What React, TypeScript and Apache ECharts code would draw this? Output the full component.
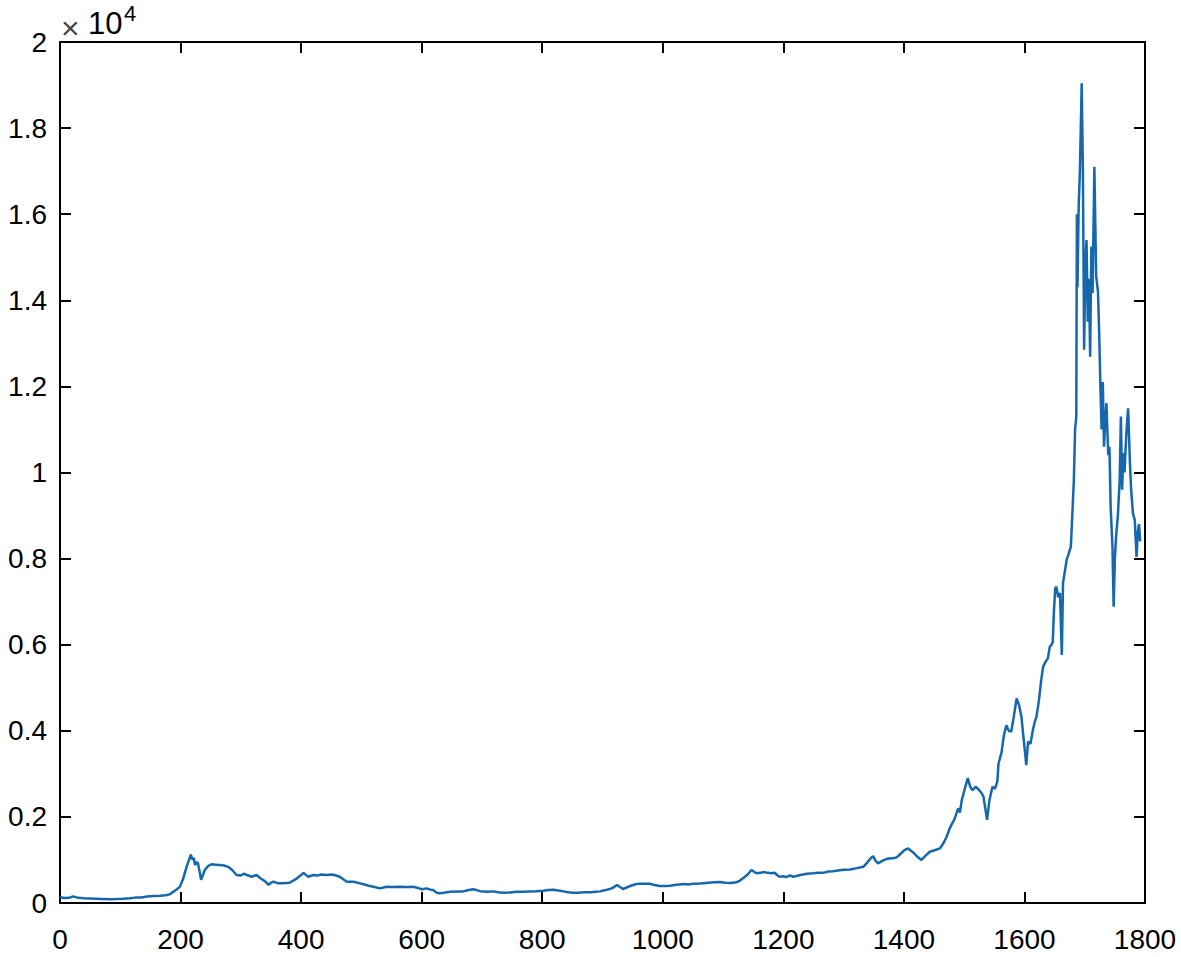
import React, { useEffect, useRef } from "react";
import * as echarts from "echarts";

// Day index (x) and price (y, raw units; axis shows ×10^4)
const dayIndex = [
  0, 8, 15, 22, 30, 40, 50, 60, 70, 83, 95, 105, 116, 125, 135, 144, 155, 166, 175, 182,
  188, 194, 199, 204, 210, 214, 217, 220, 222, 224, 227, 229, 232, 234, 237, 240, 245, 251, 258, 265,
  272, 279, 286, 293, 300, 305, 310, 318, 326, 332, 337, 342, 346, 350, 354, 362, 370, 381, 387, 393,
  399, 404, 408, 412, 420, 427, 434, 442, 451, 458, 464, 470, 476, 487, 498, 505, 512, 520, 531, 542,
  553, 564, 575, 586, 594, 600, 608, 615, 619, 625, 630, 637, 647, 660, 669, 678, 686, 697, 710, 719,
  727, 735, 746, 758, 770, 780, 790, 802, 810, 818, 827, 835, 843, 851, 860, 870, 880, 888, 896, 905,
  913, 918, 924, 929, 934, 940, 947, 956, 965, 972, 978, 986, 995, 1004, 1012, 1020, 1027, 1034, 1043, 1050,
  1058, 1067, 1076, 1085, 1095, 1104, 1113, 1122, 1128, 1133, 1140, 1147, 1152, 1156, 1162, 1167, 1174, 1180, 1186, 1190,
  1194, 1200, 1205, 1211, 1217, 1228, 1239, 1250, 1258, 1266, 1275, 1282, 1288, 1300, 1311, 1322, 1333, 1340, 1345, 1349,
  1353, 1357, 1364, 1371, 1378, 1382, 1388, 1395, 1401, 1407, 1411, 1415, 1422, 1429, 1436, 1443, 1452, 1460, 1466, 1471,
  1475, 1479, 1484, 1490, 1493, 1496, 1500, 1506, 1510, 1514, 1519, 1525, 1529, 1532, 1535, 1538, 1542, 1547, 1551, 1555,
  1557, 1562, 1566, 1570, 1574, 1578, 1582, 1587, 1591, 1595, 1598, 1601, 1603, 1606, 1610, 1614, 1617, 1620, 1624, 1628,
  1631, 1635, 1639, 1642, 1645, 1647, 1649, 1651, 1653, 1656, 1659, 1662, 1664, 1667, 1670, 1673, 1677, 1680, 1682, 1684,
  1686, 1687, 1688, 1690, 1692, 1695, 1697, 1699, 1701, 1703, 1705, 1707, 1709, 1711, 1713, 1716, 1719, 1722, 1724, 1726,
  1728, 1730, 1732, 1734, 1736, 1739, 1741, 1743, 1746, 1748, 1750, 1752, 1755, 1758, 1760, 1762, 1764, 1766, 1769, 1772,
  1775, 1777, 1780, 1783, 1786, 1788, 1790, 1792,
];

const priceValues = [
  135, 115, 120, 155, 120, 110, 105, 100, 95, 85, 95, 100, 110, 125, 130, 150, 160, 170, 180, 200,
  260, 320, 380, 550, 840, 1000, 1120, 1000, 1050, 880, 950, 920, 700, 540, 650, 760, 850, 900, 890, 880,
  870, 840, 760, 650, 640, 680, 650, 610, 650, 580, 534, 480, 420, 470, 495, 456, 456, 470, 520, 573,
  640, 700, 650, 610, 650, 640, 660, 650, 660, 640, 610, 550, 495, 495, 456, 430, 400, 378, 340, 378,
  370, 378, 370, 378, 350, 320, 340, 310, 300, 240, 225, 240, 262, 270, 270, 300, 320, 275, 260, 270,
  250, 240, 245, 262, 260, 270, 275, 285, 300, 310, 290, 270, 250, 240, 240, 250, 250, 262, 270, 300,
  330, 360, 420, 370, 325, 360, 400, 440, 450, 445, 450, 420, 395, 395, 400, 420, 430, 440, 430, 450,
  450, 460, 470, 480, 490, 470, 465, 480, 520, 573, 650, 766, 720, 690, 700, 720, 700, 690, 700, 640,
  610, 620, 600, 640, 610, 650, 680, 690, 700, 700, 730, 740, 750, 770, 780, 810, 843, 950, 1040, 1090,
  980, 920, 980, 1020, 1040, 1040, 1060, 1150, 1230, 1270, 1220, 1180, 1080, 1000, 1100, 1190, 1230, 1270, 1400, 1540,
  1700, 1820, 1950, 2200, 2100, 2390, 2600, 2900, 2700, 2620, 2700, 2620, 2550, 2470, 2200, 1930, 2400, 2700, 2650, 2820,
  3240, 3500, 3900, 4130, 4000, 3980, 4300, 4750, 4600, 4330, 3900, 3500, 3200, 3750, 3700, 4020, 4200, 4330, 4700, 5200,
  5490, 5600, 5690, 5950, 6000, 6070, 6800, 7300, 7350, 7100, 7200, 5760, 7430, 7700, 7970, 8100, 8280, 9200, 9830, 11000,
  11300, 16000, 14300, 16200, 17000, 19040, 17000, 12850, 14800, 15400, 13500, 14500, 12690, 15250, 14170, 17100, 14550, 14200, 13230, 12000,
  11000, 12100, 10600, 11200, 11610, 10400, 10600, 9200, 8280, 6880, 8000, 8510, 9000, 9830, 11300, 9600, 10450, 10000, 10900, 11490,
  10220, 9600, 9050, 8900, 8040, 8600, 8800, 8400,
];

const xTickStep = 200;
const yTickStep = 2000;

const FONT = "'Liberation Sans', Arial, Helvetica, sans-serif";

export default function App() {
  const ref = useRef<HTMLDivElement>(null);

  useEffect(() => {
    if (!ref.current) return;
    const chart = echarts.init(ref.current, null, { renderer: "svg" });
    const data = dayIndex.map((d, i) => [d, priceValues[i]]);

    const axisLine = { show: true, onZero: false, lineStyle: { color: "#000", width: 2 } };
    const axisTick = { show: true, inside: true, length: 11, lineStyle: { color: "#000", width: 2 } };

    chart.setOption({
      animation: false,
      backgroundColor: "#fff",
      grid: { left: 60, right: 36, top: 42, bottom: 54, containLabel: false },
      xAxis: [
        {
          type: "value",
          min: 0,
          max: 1800,
          interval: xTickStep,
          position: "bottom",
          axisLine,
          axisTick,
          splitLine: { show: false },
          axisLabel: {
            show: true,
            color: "#000",
            fontSize: 28,
            fontFamily: FONT,
            margin: 22,
            showMinLabel: true,
            showMaxLabel: true,
            formatter: (v: number) => String(v),
          },
        },
        {
          type: "value",
          min: 0,
          max: 1800,
          interval: xTickStep,
          position: "top",
          axisLine,
          axisTick,
          splitLine: { show: false },
          axisLabel: { show: false },
        },
      ],
      yAxis: [
        {
          type: "value",
          min: 0,
          max: 20000,
          interval: yTickStep,
          position: "left",
          axisLine,
          axisTick,
          splitLine: { show: false },
          axisLabel: {
            show: true,
            color: "#000",
            fontSize: 28,
            fontFamily: FONT,
            margin: 13,
            formatter: (v: number) => String(Math.round(v / 1000) / 10),
          },
        },
        {
          type: "value",
          min: 0,
          max: 20000,
          interval: yTickStep,
          position: "right",
          axisLine,
          axisTick,
          splitLine: { show: false },
          axisLabel: { show: false },
        },
      ],
      graphic: [
        {
          type: "text",
          x: 61,
          y: 28,
          style: {
            text: "×",
            font: `32px ${FONT}`,
            fill: "#444",
            align: "left",
            verticalAlign: "middle",
          },
        },
        {
          type: "text",
          x: 88,
          y: 8,
          style: {
            text: "10",
            font: `31px ${FONT}`,
            fill: "#000",
            align: "left",
            verticalAlign: "top",
          },
        },
        {
          type: "text",
          x: 124,
          y: 2,
          style: {
            text: "4",
            font: `22px ${FONT}`,
            fill: "#000",
            align: "left",
            verticalAlign: "top",
          },
        },
      ],
      series: [
        {
          type: "line",
          xAxisIndex: 0,
          yAxisIndex: 0,
          data,
          showSymbol: false,
          symbol: "none",
          lineStyle: { color: "#1668AE", width: 2.5 },
          emphasis: { disabled: true },
        },
      ],
    });

    return () => chart.dispose();
  }, []);

  return (
    <div
      ref={ref}
      style={{ position: "fixed", left: 0, top: 0, width: 1181, height: 957, background: "#fff" }}
    />
  );
}
